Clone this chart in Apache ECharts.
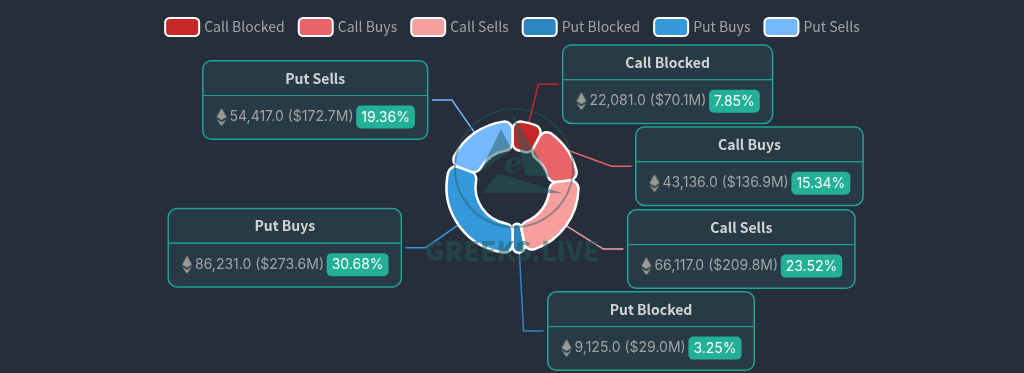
<!DOCTYPE html>
<html><head><meta charset="utf-8">
<style>html,body{margin:0;padding:0;background:#252e3a}#c{width:1024px;height:373px}</style>
<script src="https://cdn.jsdelivr.net/npm/echarts@6/dist/echarts.min.js"></script>
</head><body><div id="c"></div>
<script>
const categories=['Call Blocked','Call Buys','Call Sells','Put Blocked','Put Buys','Put Sells'];
const ethValues=[22081,43136,66117,9125,86231,54417];
const usdLabels=['$70.1M','$136.9M','$209.8M','$29.0M','$273.6M','$172.7M'];
const percentLabels=['7.85%','15.34%','23.52%','3.25%','30.68%','19.36%'];
const colors=['#c62828','#e86469','#f79f9f','#2e86c1','#3498db','#74b9ff'];
const FONT='"Noto Sans CJK KR","Noto Sans",sans-serif';
const NUM='Inter,"Noto Sans",sans-serif';
const ic=document.createElement('canvas');ic.width=12;ic.height=20;
(function(){const g=ic.getContext('2d');g.fillStyle='#9c9a94';
 g.beginPath();g.moveTo(6,1);g.lineTo(11,10);g.lineTo(6,13);g.lineTo(1,10);g.closePath();g.fill();
 g.beginPath();g.moveTo(1,12);g.lineTo(6,15);g.lineTo(11,12);g.lineTo(6,19);g.closePath();g.fill();})();
const chart=echarts.init(document.getElementById('c'),null,{renderer:'canvas'});
const wm='rgba(38,90,88,0.5)';
chart.setOption({
 backgroundColor:'#252e3a',animation:false,
 legend:{top:12,left:'center',itemWidth:34,itemHeight:18,itemGap:13,
  textStyle:{color:'#a3a3a3',fontSize:14,fontFamily:FONT},
  data:categories},
 graphic:{elements:[
  {type:'circle',z:100,silent:true,shape:{cx:514,cy:168,r:59},style:{fill:'none',stroke:'rgba(38,90,88,0.45)',lineWidth:2}},
  {type:'polygon',z:100,silent:true,shape:{points:[[512,113],[550,177],[525,175]]},style:{fill:wm}},
  {type:'polygon',z:100,silent:true,shape:{points:[[501,129],[480,172],[512,150]]},style:{fill:wm}},
  {type:'polygon',z:100,silent:true,shape:{points:[[483,193],[498,173],[562,193]]},style:{fill:wm}},
  {type:'text',z:100,silent:true,style:{x:504,y:150,text:'e',fill:wm,font:'italic bold 30px "DejaVu Serif"'}},
  {type:'text',z:100,silent:true,style:{x:425,y:238,text:'GREEKS.LIVE',fill:wm,font:'900 26.5px "Noto Sans CJK KR"'}}
 ]},
 series:[{type:'pie',center:[512.5,187],radius:[37,66],startAngle:90,padAngle:0,
  itemStyle:{borderColor:'#fff',borderWidth:2.5,borderRadius:8},
  color:colors,
  data:categories.map((n,i)=>({name:n,value:ethValues[i]})),
  labelLine:{show:true,length:40,length2:20,lineStyle:{width:1.5}},
  label:{show:true,position:'outside',
   formatter:p=>{const i=p.dataIndex;return `{a|${categories[i]}}\n{hr|}\n{s|}{ic|}{b|${ethValues[i].toLocaleString('en-US',{minimumFractionDigits:1})} (${usdLabels[i]})} {per|${percentLabels[i]}}{s|}`;},
   backgroundColor:'#273a46',borderColor:'#1fa592',borderWidth:1.5,borderRadius:8,padding:0,
   fontFamily:FONT,
   rich:{
    a:{color:'#d4d4d4',fontSize:14,fontWeight:'bold',lineHeight:34,align:'center',fontFamily:FONT},
    hr:{borderColor:'#1fa592',width:'100%',borderWidth:1,height:0},
    s:{width:12},
    ic:{width:12,height:20,backgroundColor:{image:ic}},
    b:{color:'#a3a3a3',fontSize:14,lineHeight:43,padding:[0,0,0,2],fontFamily:NUM},
    per:{color:'#fff',backgroundColor:'#23b096',padding:[5,5,4,5],borderRadius:5,fontSize:14,fontFamily:NUM}
   }}
 }]
});
</script></body></html>
